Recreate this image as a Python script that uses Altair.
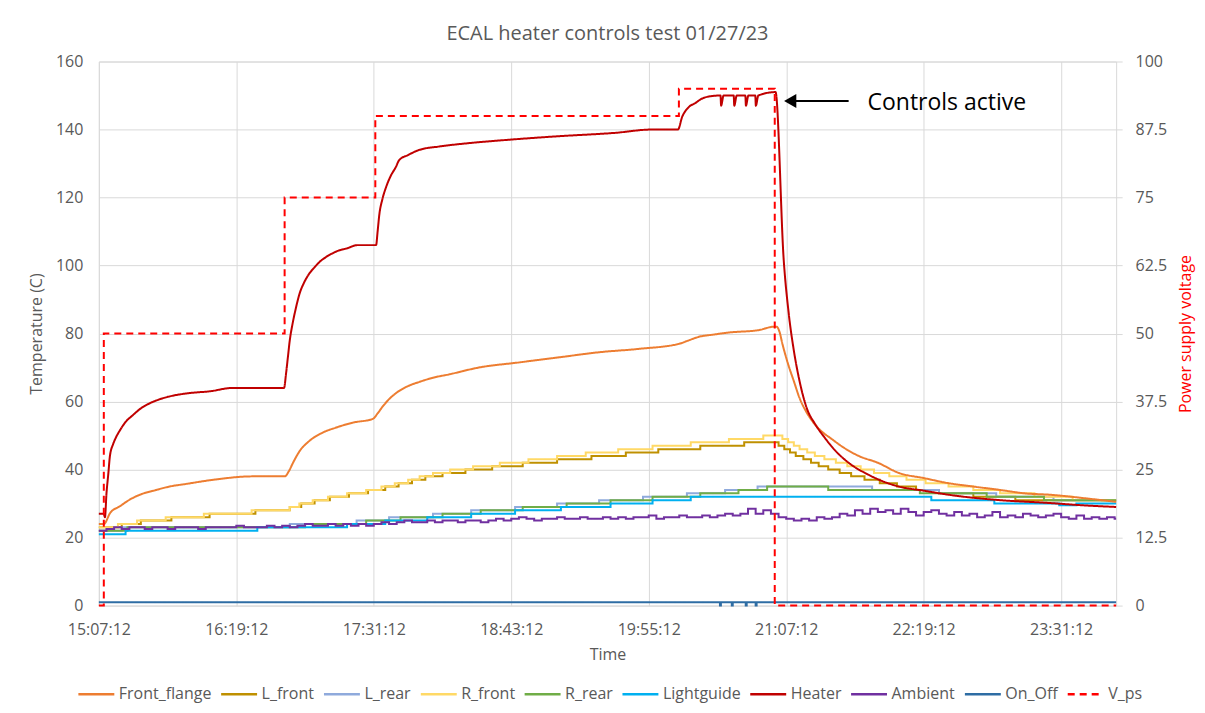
import altair as alt
import pandas as pd

START = pd.Timestamp("2023-01-27 15:07:12")
END_MIN = 532.8  # 24:00:00

SERIES = ["Front_flange", "L_front", "L_rear", "R_front", "R_rear",
          "Lightguide", "Heater", "Ambient", "On_Off", "V_ps"]
COLORS = ["#ED7D31", "#BF9000", "#8FAADC", "#FFD966", "#70AD47",
          "#00B0F0", "#C00000", "#7030A0", "#2E6DA4", "#FF0000"]
DASHES = [[1, 0]] * 9 + [[7, 5]]

X_TICKS = ["15:07:12", "16:19:12", "17:31:12", "18:43:12",
           "19:55:12", "21:07:12", "22:19:12", "23:31:12"]
Y_TICKS = [0, 20, 40, 60, 80, 100, 120, 140, 160]
Y2_TICKS = [0, 12.5, 25, 37.5, 50, 62.5, 75, 87.5, 100]

# ---- data: minutes after 15:07:12 and values ----
FF_T = [0, 2.6, 6, 11, 16, 21.5, 30, 37, 46, 60, 80.6, 97.4, 99.5, 101.7, 105, 110, 117, 124, 133, 143.5,
        146, 148.6, 152, 155.7, 161, 168, 175, 183.5, 199, 220, 241, 262, 283, 304, 309, 314, 322, 330, 345.6, 353.5,
        355, 356.5, 358, 361, 364, 367, 370, 374, 378, 383.8, 390, 398, 408, 419, 432, 445, 458, 472, 485, 498,
        519, 532.8]
FF_V = [24, 24, 27.3, 29.2, 31.1, 32.6, 34, 35, 35.8, 37, 38, 38, 39.5, 42, 45.3, 48.3, 50.8, 52.3, 53.8, 54.9,
        56.5, 58.5, 60.7, 62.5, 64.3, 65.8, 67, 68, 70, 71.5, 73, 74.5, 75.5, 77, 78, 79, 79.7, 80.3, 81, 82,
        82, 80.5, 77, 71, 66, 61, 57.5, 54, 51.5, 49, 46.5, 44, 42, 39, 37.5, 36, 35, 34, 33, 32.6,
        31.4, 30.5]

LF_T = [0, 12, 22, 38, 58, 82, 100, 106, 113, 121, 131, 141, 150, 157, 164, 171, 180, 192, 206, 222,
        240, 258, 276, 293, 315, 338, 356, 359, 362, 365, 369, 373, 377, 382, 388, 394, 401, 409, 418, 428,
        440, 458, 480, 532.8]
LF_V = [23, 24, 25, 26, 27, 28, 29, 30, 31, 32, 33, 34, 35, 36, 37, 38, 39, 40, 41, 42,
        43, 44, 45, 46, 47, 48, 47, 46, 45, 44, 43, 42, 41, 40, 39, 38, 37, 36, 35, 34,
        33, 32, 31, 31]

LR_T = [0, 12, 100, 135, 152, 175, 195, 218, 240, 262, 285, 308, 328, 345, 405, 440, 470, 500, 532.8]
LR_V = [22, 23, 24, 25, 26, 27, 28, 29, 30, 31, 32, 33, 34, 35, 34, 33, 32, 31, 31]

RF_T = [0, 10, 20, 35, 55, 80, 100, 105, 112, 120, 130, 140, 148, 155, 162, 168, 175, 184, 196, 210,
        225, 240, 255, 272, 290, 310, 330, 348, 358, 361, 364, 367, 371, 375, 380, 386, 392, 399,
        406, 414, 423, 433, 445, 458, 472, 490, 510, 532.8]
RF_V = [23, 24, 25, 26, 27, 28, 29, 30, 31, 32, 33, 34, 35, 36, 37, 38, 39, 40, 41, 42,
        43, 44, 45, 46, 47, 48, 49, 50, 49, 48, 47, 46, 45, 44, 43, 42, 41, 40,
        39, 38, 37, 36, 35, 34, 33, 32, 31, 31]

RR_T = [0, 15, 108, 140, 158, 180, 200, 222, 245, 268, 290, 315, 335, 350, 382, 430, 465, 495, 532.8]
RR_V = [22, 23, 24, 25, 26, 27, 28, 29, 30, 31, 32, 33, 34, 35, 34, 33, 32, 31, 31]

LG_T = [0, 14, 83, 130, 150, 172, 195, 218, 242, 268, 290, 310, 436, 469, 503, 512, 532.8]
LG_V = [21, 22, 23, 24, 25, 26, 27, 28, 29, 30, 31, 32, 31, 30, 29.5, 30, 30]

H_T = [0, 2.5, 3.2, 4, 5, 5.8, 7.5, 9, 11, 14, 17.8, 22, 26.7, 31, 37, 47.6, 58, 70, 97, 98,
       99, 100, 101.5, 103, 105, 107.5, 110.3, 113, 115.5, 119, 122.4, 126, 129.7, 135.4, 145.2, 146, 146.9,
       148.5, 150.4, 153, 155.6, 157.3, 162, 167.8, 178.3, 194, 215, 240, 270, 290,
       303.3, 305.5, 309, 312.5, 315, 319.4, 325.6, 325.9, 327.2, 332.5, 332.8, 334.1, 338.6, 338.9, 340.2,
       343.8, 344.1, 345.4, 354.4, 358.7, 361.3, 364, 367, 370.8, 375, 380, 385, 392.7, 403, 419,
       432, 445, 472, 497, 515, 532.8]
H_V = [27, 27, 26, 33, 39, 44, 47.5, 49.5, 51.5, 54, 56, 58, 59.5, 60.5, 61.5, 62.5, 63, 64, 64, 68,
       73, 78, 83, 87, 91.5, 95, 97.7, 99.5, 101, 102.5, 103.6, 104.5, 105, 106, 106, 110, 115,
       119.5, 123, 126.5, 129, 131, 132.5, 134, 135, 136, 137, 138, 139, 140,
       140, 143.7, 146.6, 147.8, 148.8, 149.7, 150, 147, 150, 150, 147, 150, 150, 147, 150,
       150, 147, 150, 151, 101.6, 86, 75, 66, 58, 53.5, 49.5, 46, 42, 38.5, 35,
       33.8, 32.6, 31, 30.2, 29.5, 29]

AMB_STEP = 4
AMB_V = [22, 22.5, 23, 22.5, 23, 23, 22.5, 23, 23, 22.5, 23, 23, 23, 22.5, 23, 23, 23, 23, 23.5, 23,
         23, 23, 23.5, 23, 23.5, 23, 23.5, 24, 23.5, 23.5, 24, 23.5, 24, 23.5, 24, 23.5, 24,
         24.5, 24, 24.5, 25, 24.5, 24.5, 25, 24.5, 25, 25, 24.5, 25, 25, 24.5,
         25, 25.5, 25, 25.5, 26, 25.5, 25, 25.5, 25.5, 26, 25.5, 25.5, 26, 25.5, 25.5, 26,
         25.5, 26, 25.5, 26, 26, 26.5, 25.5, 26, 26, 26.5, 26, 26, 26.5, 26, 26.5, 27, 26.5, 27, 28.5, 27, 28,
         27, 26, 25.5, 25, 25.5, 25, 26, 25.5,
         26, 27, 26.5, 28, 27, 28.5, 27.5, 28, 27, 28.5, 27.5, 26.5, 27.5, 28, 27, 26.5, 27.5, 26.5, 27, 26,
         26.5, 27.5, 26, 26.5, 26, 27, 26.5, 26, 26.5, 27, 26, 25.5, 26.5, 25.5, 26, 25.5, 26, 25.5]

OO_T = [0, 325.3, 325.8, 331.5, 332, 338.8, 339.3, 344, 344.5, 532.8]
OO_V = [1, 0, 1, 0, 1, 0, 1, 0, 1, 1]

VPS_T = [0, 2.6, 97.3, 144.8, 303.8, 354.0, 532.8]
VPS_V = [0, 50, 75, 90, 95, 0, 0]

# annotation (data coordinates)
ARROW_T = [362.1, 392.7]
ARROW_Y = 148.4
NOTE_T = 402.6
NOTE_Y = 145.6
NOTE_TEXT = "Controls active"


def to_time(mins):
    return START + pd.to_timedelta(pd.Series(mins, dtype=float), unit="m")


def frame(name, t, v):
    return pd.DataFrame({"series": name, "time": to_time(t), "value": v})


amb_t = [i * AMB_STEP for i in range(len(AMB_V))] + [END_MIN]
amb_v = AMB_V + [AMB_V[-1]]

steps_df = pd.concat([
    frame("L_front", LF_T, LF_V),
    frame("L_rear", LR_T, LR_V),
    frame("R_front", RF_T, RF_V),
    frame("R_rear", RR_T, RR_V),
    frame("Lightguide", LG_T, LG_V),
    frame("Ambient", amb_t, amb_v),
    frame("On_Off", OO_T, OO_V),
], ignore_index=True)
smooth_df = pd.concat([frame("Front_flange", FF_T, FF_V), frame("Heater", H_T, H_V)], ignore_index=True)
vps_df = frame("V_ps", VPS_T, VPS_V)

arrow_df = pd.DataFrame({"time": to_time([ARROW_T[0]]), "time2": to_time([ARROW_T[1]]), "value": [ARROW_Y]})
head_df = pd.DataFrame({"time": to_time([ARROW_T[0]]), "value": [ARROW_Y]})
note_df = pd.DataFrame({"time": to_time([NOTE_T]), "value": [NOTE_Y], "label": [NOTE_TEXT]})


def dt(hms, day=27):
    h, m, s = [int(p) for p in hms.split(":")]
    return alt.DateTime(year=2023, month=1, date=day, hours=h, minutes=m, seconds=s)


FONT = "Open Sans"
GREY = "#595959"
GRID = "#D9D9D9"

X_ENC = alt.X(
    "time:T",
    title="Time",
    scale=alt.Scale(domain=[dt("15:07:12"), dt("00:00:00", day=28)], nice=False),
    axis=alt.Axis(values=[dt(s) for s in X_TICKS], format="%H:%M:%S", labelFlush=False,
                  labelOverlap=False, grid=True, gridColor=GRID, ticks=False, domain=False,
                  labelPadding=16, titlePadding=9, labelColor=GREY, labelFontSize=16,
                  titleColor=GREY, titleFontSize=16, titleFontWeight="normal"),
)
Y_ENC = alt.Y(
    "value:Q",
    title="Temperature (C)",
    scale=alt.Scale(domain=[0, 160], nice=False),
    axis=alt.Axis(values=Y_TICKS, grid=True, gridColor=GRID, ticks=False, domain=False,
                  labelPadding=16, titlePadding=11, labelColor=GREY, labelFontSize=16,
                  titleColor=GREY, titleFontSize=16, titleFontWeight="normal"),
)
Y2_ENC = alt.Y(
    "value:Q",
    title="Power supply voltage",
    scale=alt.Scale(domain=[0, 100], nice=False),
    axis=alt.Axis(orient="right", values=Y2_TICKS, grid=False, ticks=True, tickColor=GRID,
                  tickSize=6, domain=False, labelPadding=13, titlePadding=27,
                  labelExpr="format(datum.value, '~g')", labelColor=GREY, labelFontSize=16,
                  titleColor="#FF0000", titleFontSize=16, titleFontWeight="normal", titleAngle=270),
)
LEGEND = alt.Legend(title=None, orient="none", legendX=-22, legendY=614, direction="horizontal",
                    columns=10, symbolType="stroke", symbolSize=1296, symbolStrokeWidth=2.5,
                    labelFontSize=16, labelColor=GREY, labelOffset=3, columnPadding=4,
                    labelLimit=300)
COLOR_ENC = alt.Color("series:N", scale=alt.Scale(domain=SERIES, range=COLORS), legend=LEGEND)
DASH_ENC = alt.StrokeDash("series:N", scale=alt.Scale(domain=SERIES, range=DASHES), legend=LEGEND)

steps = alt.Chart(steps_df).mark_line(interpolate="step-after", strokeWidth=2).encode(
    x=X_ENC, y=Y_ENC, color=COLOR_ENC, strokeDash=DASH_ENC)
smooth = alt.Chart(smooth_df).mark_line(interpolate="monotone", strokeWidth=2).encode(
    x=X_ENC, y=Y_ENC, color=COLOR_ENC, strokeDash=DASH_ENC)
arrow = alt.Chart(arrow_df).mark_rule(color="black", strokeWidth=2).encode(
    x=X_ENC, x2="time2:T", y=Y_ENC)
head = alt.Chart(head_df).mark_point(shape="triangle-left", filled=True, size=200,
                                     color="black", opacity=1).encode(x=X_ENC, y=Y_ENC)
note = alt.Chart(note_df).mark_text(align="left", baseline="alphabetic", fontSize=23,
                                    font=FONT, color="black").encode(x=X_ENC, y=Y_ENC, text="label:N")

temps = alt.layer(steps, smooth, arrow, head, note)

vps = alt.Chart(vps_df).mark_line(interpolate="step-after", strokeWidth=2).encode(
    x=X_ENC, y=Y2_ENC, color=COLOR_ENC, strokeDash=DASH_ENC)

chart = alt.layer(temps, vps).resolve_scale(y="independent").properties(
    width=1019, height=545,
    padding={"left": 20, "top": 15, "right": 3, "bottom": 3},
    title=alt.TitleParams("ECAL heater controls test 01/27/23", fontSize=20, font=FONT,
                          fontWeight="normal", color=GREY, anchor="middle", offset=10),
).configure_view(stroke=GRID, strokeWidth=1).configure_axis(
    labelFont=FONT, titleFont=FONT).configure_legend(labelFont=FONT)

chart.save("out.html", embed_options={"renderer": "svg", "actions": False})
